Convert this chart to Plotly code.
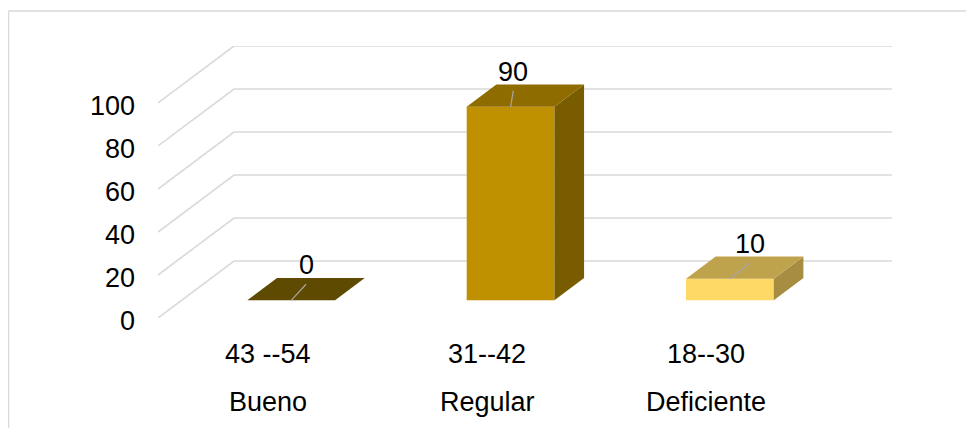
import plotly.graph_objects as go

# ---- data ----
levels = ["Bueno", "Regular", "Deficiente"]
ranges = ["43 --54", "31--42", "18--30"]
values = [0, 90, 10]
y_ticks = [0, 20, 40, 60, 80, 100]

# ---- styles ----
front_colors = ["#7F6000", "#BF9000", "#FFD966"]
top_colors = ["#5E4A00", "#8F6C00", "#BFA34C"]
side_colors = ["#523E00", "#7A5C00", "#A68D42"]
label_xshift = [0, -12, 5]
grid_color = "#D9D9D9"
font_family = "Liberation Sans, Arial, sans-serif"
font_size = 27

# page has an 8px body margin: figure origin sits at (8, 8) of the window
OFF = 8
W, H = 974 - OFF, 428 - OFF
L, T = 158 - OFF, 46 - OFF
R = W - (892 - OFF)
B = H - (318 - OFF)
plot_w, plot_h = W - L - R, H - T - B

depth_x, depth_y = 0.3465, 26.5      # oblique depth of the floor / walls
f_front, f_depth = 0.31, 0.39         # bar position inside depth
bar_w = 0.4

n = len(levels)
x_range = [-0.5, n - 0.5 + depth_x]
y_range = [0, max(y_ticks) + depth_y]
px_x = plot_w / (x_range[1] - x_range[0])
px_y = plot_h / (y_range[1] - y_range[0])

ox, oy = f_front * depth_x, f_front * depth_y
ddx, ddy = f_depth * depth_x, f_depth * depth_y

fig = go.Figure()

# gridlines (side wall diagonal + back wall horizontal), below everything
shapes = []
for v in y_ticks:
    x0, x1, x2 = -0.5, -0.5 + depth_x, n - 0.5 + depth_x
    shapes.append(dict(type="path", xref="x", yref="y", layer="below",
                       path=f"M {x0},{v} L {x1},{v + depth_y} L {x2},{v + depth_y}",
                       line=dict(color=grid_color, width=1.6)))

# chart border (top and left), in window pixel positions
def pxp(px):
    return (px - OFF - L) / plot_w
def pyp(py):
    return (H - B - (py - OFF)) / plot_h
shapes.append(dict(type="line", xref="paper", yref="paper",
                   x0=pxp(8.5), y0=pyp(11), x1=pxp(990), y1=pyp(11),
                   line=dict(color=grid_color, width=1.5)))
shapes.append(dict(type="line", xref="paper", yref="paper",
                   x0=pxp(8.5), y0=pyp(11), x1=pxp(8.5), y1=pyp(450),
                   line=dict(color=grid_color, width=1.5)))

# front faces
fx = [i + ox for i in range(n)]
fig.add_trace(go.Bar(x=fx, y=values, base=oy, width=bar_w,
                     marker=dict(color=front_colors, line=dict(width=0)),
                     hoverinfo="skip", showlegend=False))

# top and side faces
for i, v in enumerate(values):
    xl, xr = fx[i] - bar_w / 2, fx[i] + bar_w / 2
    yb, yt = oy, oy + v
    if v > 0:
        fig.add_trace(go.Scatter(
            x=[xr, xr, xr + ddx, xr + ddx, xr], y=[yb, yt, yt + ddy, yb + ddy, yb],
            mode="lines", fill="toself", fillcolor=side_colors[i],
            line=dict(width=0), hoverinfo="skip", showlegend=False))
    fig.add_trace(go.Scatter(
        x=[xl, xr, xr + ddx, xl + ddx, xl], y=[yt, yt, yt + ddy, yt + ddy, yt],
        mode="lines", fill="toself", fillcolor=top_colors[i],
        line=dict(width=0), hoverinfo="skip", showlegend=False))

# data labels with leader lines
annotations = []
for i, v in enumerate(values):
    cx = fx[i] + ddx / 2 + label_xshift[i] / px_x
    cy = oy + v + ddy / 2 + 24 / px_y
    annotations.append(dict(x=cx, y=cy, xref="x", yref="y", text=str(v),
                            showarrow=False, xanchor="center", yanchor="middle",
                            font=dict(family=font_family, size=font_size, color="#000000")))
    fig.add_trace(go.Scatter(
        x=[fx[i], cx], y=[oy + v, cy - 19 / px_y], mode="lines",
        line=dict(color="#A6A6A6", width=1.2), hoverinfo="skip", showlegend=False))

# category labels (two rows)
for i in range(n):
    annotations.append(dict(x=i, y=0, xref="x", yref="y", text=ranges[i],
                            showarrow=False, xanchor="center", yanchor="middle", yshift=-36,
                            font=dict(family=font_family, size=font_size, color="#000000")))
    annotations.append(dict(x=i, y=0, xref="x", yref="y", text=levels[i],
                            showarrow=False, xanchor="center", yanchor="middle", yshift=-84,
                            font=dict(family=font_family, size=font_size, color="#000000")))

fig.update_layout(
    width=W, height=H, autosize=False,
    margin=dict(l=L, r=R, t=T, b=B, pad=0),
    paper_bgcolor="white", plot_bgcolor="white",
    shapes=shapes, annotations=annotations, showlegend=False,
    xaxis=dict(range=x_range, visible=False, fixedrange=True),
    yaxis=dict(range=y_range, tickvals=y_ticks, showgrid=False, zeroline=False,
               showline=False, ticks="", ticklabelstandoff=22, ticklabelshift=3,
               automargin=False,
               tickfont=dict(family=font_family, size=font_size, color="#000000"),
               fixedrange=True),
)

fig.write_html("out.html")
